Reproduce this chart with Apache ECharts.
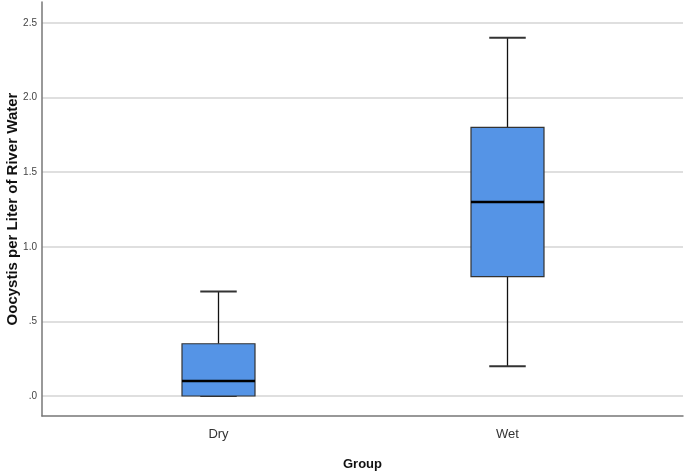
<!DOCTYPE html>
<html><head><meta charset="utf-8">
<script src="https://cdn.jsdelivr.net/npm/echarts@6/dist/echarts.min.js"></script>
<style>html,body{margin:0;padding:0;background:#fff}#c{width:685px;height:473px}</style>
</head><body><div id="c"></div>
<script>
const categories = ['Dry', 'Wet'];
// [min, Q1, median, Q3, max]
const boxValues = [
  [0.0, 0.0, 0.1, 0.35, 0.7],
  [0.2, 0.8, 1.3, 1.8, 2.4]
];
const yTicks = [0, 0.5, 1.0, 1.5, 2.0, 2.5];
const yMin = -0.134, yMax = 2.64;

function fmt(v){ const s = v.toFixed(1); return s.startsWith('0') ? s.slice(1) : s; }

const boxData = boxValues.map((b, i) => [i].concat(b));

function renderBox(params, api) {
  const x = api.value(0);
  const pMin = api.coord([x, api.value(1)]);
  const pQ1 = api.coord([x, api.value(2)]);
  const pMed = api.coord([x, api.value(3)]);
  const pQ3 = api.coord([x, api.value(4)]);
  const pMax = api.coord([x, api.value(5)]);
  const band = api.size([1, 0])[0];
  const w = band * 0.2526;
  const cx = pMed[0];
  const cap = w / 2;
  const lineStyle = {stroke: '#111', lineWidth: 1.3};
  return {
    type: 'group',
    children: [
      {type: 'line', shape: {x1: cx, y1: pQ3[1], x2: cx, y2: pMax[1]}, style: lineStyle},
      {type: 'line', shape: {x1: cx, y1: pQ1[1], x2: cx, y2: pMin[1]}, style: lineStyle},
      {type: 'line', shape: {x1: cx - cap / 2, y1: pMax[1], x2: cx + cap / 2, y2: pMax[1]}, style: {stroke: '#333', lineWidth: 2}},
      {type: 'line', shape: {x1: cx - cap / 2, y1: pMin[1], x2: cx + cap / 2, y2: pMin[1]}, style: {stroke: '#333', lineWidth: 2}},
      {type: 'rect', shape: {x: cx - w / 2, y: pQ3[1], width: w, height: pQ1[1] - pQ3[1]},
       style: {fill: '#5594e6', stroke: '#333', lineWidth: 1.2}},
      {type: 'line', shape: {x1: cx - w / 2, y1: pMed[1], x2: cx + w / 2, y2: pMed[1]}, style: {stroke: '#000', lineWidth: 2.5}}
    ]
  };
}

const chart = echarts.init(document.getElementById('c'));
chart.setOption({
  animation: false,
  backgroundColor: '#fff',
  grid: [
    {left: 42, right: 2, top: 2, bottom: 57, outerBoundsMode: 'none', containLabel: false},
    {left: 74, right: 33, top: 2, bottom: 57, outerBoundsMode: 'none', containLabel: false}
  ],
  xAxis: [
    {type: 'value', gridIndex: 0, min: 0, max: 1, show: true,
     axisLine: {show: true, onZero: false, lineStyle: {color: '#777', width: 1.5}},
     axisTick: {show: false}, axisLabel: {show: false}, splitLine: {show: false},
     name: 'Group', nameLocation: 'middle', nameGap: 42, nameMoveOverlap: false,
     nameTextStyle: {fontFamily: 'Liberation Sans', fontWeight: 'bold', fontSize: 13, color: '#111'}},
    {type: 'category', gridIndex: 1, data: categories, boundaryGap: true,
     axisLine: {show: false}, axisTick: {show: false}, splitLine: {show: false},
     axisLabel: {margin: 12, fontFamily: 'Liberation Sans', fontSize: 13, color: '#333'}}
  ],
  yAxis: [
    {type: 'value', gridIndex: 0, min: yMin, max: yMax,
     axisLine: {show: true, onZero: false, lineStyle: {color: '#777', width: 1.5}},
     axisTick: {show: false, customValues: yTicks},
     axisLabel: {customValues: yTicks, formatter: fmt, margin: 5, fontFamily: 'Liberation Sans', fontSize: 10, color: '#444'},
     splitLine: {show: true, lineStyle: {color: '#d4d4d4', width: 1.5}},
     name: 'Oocystis per Liter of River Water', nameLocation: 'middle', nameGap: 22, nameMoveOverlap: false,
     nameTextStyle: {fontFamily: 'Liberation Sans', fontWeight: 'bold', fontSize: 15, color: '#111'}},
    {type: 'value', gridIndex: 1, min: yMin, max: yMax, show: false}
  ],
  series: [
    {type: 'custom', xAxisIndex: 1, yAxisIndex: 1, data: boxData,
     renderItem: renderBox, encode: {x: 0, y: [1, 2, 3, 4, 5]}, z: 3, silent: true}
  ]
});
</script></body></html>
